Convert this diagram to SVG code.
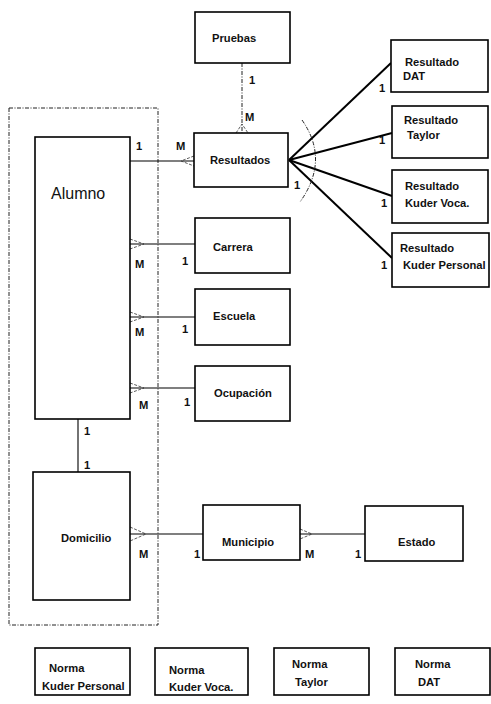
<svg xmlns="http://www.w3.org/2000/svg" width="491" height="704" viewBox="0 0 491 704">
<style>
.box{fill:#fff;stroke:#000;stroke-width:1.6}
.t{font-family:"Liberation Sans",Arial,sans-serif;font-size:11.2px;font-weight:bold;fill:#111}
.big{font-size:16px;font-weight:normal}
.ln{stroke:#000;stroke-width:1.1;fill:none}
.thick{stroke:#000;stroke-width:2;fill:none}
.crow{stroke:#333;stroke-width:0.8;fill:none;stroke-dasharray:3 1.5}
.dd{stroke:#222;stroke-width:1;fill:none;stroke-dasharray:4 1.5 1 1.5}
</style>
<rect width="491" height="704" fill="#fff"/>
<g id="group-frame"><rect class="dd" x="9" y="108" width="149" height="517"/></g>
<g id="connectors">
<line class="dd" x1="242" y1="63" x2="242" y2="133"/>
<path class="crow" d="M236 133 L242 124 L248 133"/>
<line class="ln" x1="130" y1="161" x2="194" y2="161"/>
<path class="crow" d="M194 156 L181 161 L194 166"/>
<line class="thick" x1="289" y1="160" x2="391" y2="63"/>
<line class="thick" x1="289" y1="160" x2="392" y2="133"/>
<line class="thick" x1="289" y1="160" x2="392" y2="196"/>
<line class="thick" x1="289" y1="160" x2="392" y2="258"/>
<path class="dd" d="M302 120 Q330 160 300 202"/>
<line class="ln" x1="130" y1="244" x2="195" y2="244"/>
<path class="crow" d="M130 239 L144 244 L130 249"/>
<line class="ln" x1="130" y1="317" x2="195" y2="317"/>
<path class="crow" d="M130 312 L144 317 L130 322"/>
<line class="ln" x1="130" y1="388" x2="195" y2="388"/>
<path class="crow" d="M130 383 L144 388 L130 393"/>
<line class="ln" x1="78" y1="419" x2="78" y2="472"/>
<line class="ln" x1="130" y1="534" x2="203" y2="534"/>
<path class="crow" d="M130 527 L146 534 L130 541"/>
<line class="ln" x1="300" y1="534" x2="365" y2="534"/>
<path class="crow" d="M300 529 L312 534 L300 539"/>
</g>
<g id="labels">
<text class="t" x="249" y="84">1</text>
<text class="t" x="245" y="121">M</text>
<text class="t" x="136" y="150">1</text>
<text class="t" x="176" y="150">M</text>
<text class="t" x="294" y="189">1</text>
<text class="t" x="379" y="92">1</text>
<text class="t" x="379" y="144">1</text>
<text class="t" x="381" y="207">1</text>
<text class="t" x="381" y="269">1</text>
<text class="t" x="135" y="268">M</text>
<text class="t" x="182" y="265">1</text>
<text class="t" x="135" y="336">M</text>
<text class="t" x="182" y="333">1</text>
<text class="t" x="139" y="409">M</text>
<text class="t" x="184" y="406">1</text>
<text class="t" x="84" y="435">1</text>
<text class="t" x="84" y="469">1</text>
<text class="t" x="139" y="558">M</text>
<text class="t" x="194" y="558">1</text>
<text class="t" x="305" y="558">M</text>
<text class="t" x="355" y="558">1</text>
</g>
<g id="Pruebas"><rect class="box" x="195" y="12" width="95" height="51"/><text class="t" x="212" y="42">Pruebas</text></g>
<g id="Resultados"><rect class="box" x="194" y="133" width="94" height="54"/><text class="t" x="210" y="164">Resultados</text></g>
<g id="ResultadoDAT"><rect class="box" x="391" y="40" width="97" height="52"/><text class="t" x="405" y="66">Resultado</text><text class="t" x="403" y="80">DAT</text></g>
<g id="ResultadoTaylor"><rect class="box" x="392" y="106" width="96" height="52"/><text class="t" x="404" y="124">Resultado</text><text class="t" x="407" y="139">Taylor</text></g>
<g id="ResultadoKuderVoca"><rect class="box" x="392" y="170" width="96" height="53"/><text class="t" x="405" y="190">Resultado</text><text class="t" x="405" y="207">Kuder Voca.</text></g>
<g id="ResultadoKuderPersonal"><rect class="box" x="392" y="233" width="97" height="54"/><text class="t" x="400" y="252">Resultado</text><text class="t" x="403" y="269">Kuder Personal</text></g>
<g id="Alumno"><rect class="box" x="35" y="137" width="95" height="282"/><text class="t big" x="51" y="199">Alumno</text></g>
<g id="Carrera"><rect class="box" x="195" y="218" width="95" height="55"/><text class="t" x="213" y="251">Carrera</text></g>
<g id="Escuela"><rect class="box" x="195" y="289" width="95" height="56"/><text class="t" x="213" y="320">Escuela</text></g>
<g id="Ocupacion"><rect class="box" x="195" y="366" width="95" height="55"/><text class="t" x="214" y="397">Ocupación</text></g>
<g id="Domicilio"><rect class="box" x="33" y="472" width="97" height="128"/><text class="t" x="61" y="542">Domicilio</text></g>
<g id="Municipio"><rect class="box" x="203" y="505" width="97" height="55"/><text class="t" x="222" y="546">Municipio</text></g>
<g id="Estado"><rect class="box" x="365" y="506" width="98" height="55"/><text class="t" x="398" y="546">Estado</text></g>
<g id="NormaKuderPersonal"><rect class="box" x="35" y="648" width="95" height="47"/><text class="t" x="49" y="672">Norma</text><text class="t" x="42" y="690">Kuder Personal</text></g>
<g id="NormaKuderVoca"><rect class="box" x="155" y="648" width="93" height="47"/><text class="t" x="169" y="674">Norma</text><text class="t" x="169" y="691">Kuder Voca.</text></g>
<g id="NormaTaylor"><rect class="box" x="274" y="648" width="95" height="47"/><text class="t" x="292" y="668">Norma</text><text class="t" x="295" y="686">Taylor</text></g>
<g id="NormaDAT"><rect class="box" x="395" y="648" width="95" height="47"/><text class="t" x="415" y="668">Norma</text><text class="t" x="418" y="686">DAT</text></g>
</svg>
